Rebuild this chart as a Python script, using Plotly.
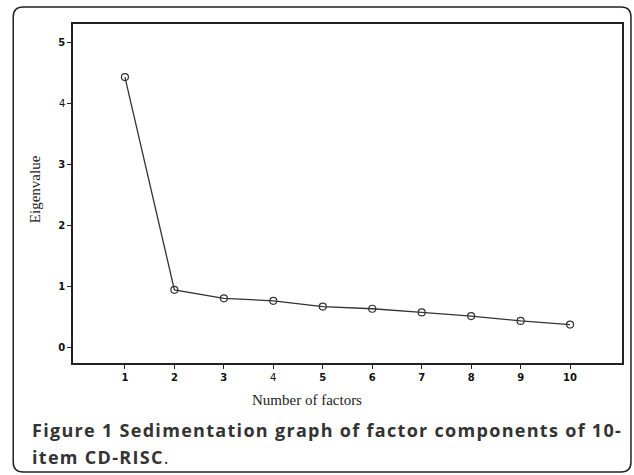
import plotly.graph_objects as go

factors = [1, 2, 3, 4, 5, 6, 7, 8, 9, 10]
eigenvalues = [4.43, 0.94, 0.80, 0.76, 0.665, 0.63, 0.57, 0.51, 0.43, 0.37]
x_ticks = [1, 2, 3, 4, 5, 6, 7, 8, 9, 10]
x_ticklabels = ["<b>1</b>", "<b>2</b>", "<b>3</b>", "4", "<b>5</b>", "<b>6</b>", "<b>7</b>", "<b>8</b>", "<b>9</b>", "<b>10</b>"]
y_ticks = [0, 1, 2, 3, 4, 5]
y_ticklabels = ["<b>0</b>", "<b>1</b>", "<b>2</b>", "<b>3</b>", "4", "<b>5</b>"]

W, H = 634, 475
L, R, T, B = 73, 10, 24, 112
pw, ph = W - L - R, H - T - B

def px(x):
    return (x - L) / pw

def py(y):
    return 1 - (y - T) / ph

fig = go.Figure()
fig.add_trace(go.Scatter(
    x=factors, y=eigenvalues, mode="lines+markers",
    line=dict(color="#333333", width=1.3),
    marker=dict(symbol="circle-open", size=7, color="#333333", line=dict(width=1.2)),
    showlegend=False,
))

# rounded outer border
x0, x1, y0, y1 = px(13), px(633), py(472), py(7)
rx, ry = 10 / pw, 10 / ph
path = (f"M {x0+rx},{y1} L {x1-rx},{y1} Q {x1},{y1} {x1},{y1-ry} "
        f"L {x1},{y0+ry} Q {x1},{y0} {x1-rx},{y0} L {x0+rx},{y0} "
        f"Q {x0},{y0} {x0},{y0+ry} L {x0},{y1-ry} Q {x0},{y1} {x0+rx},{y1} Z")
fig.add_shape(type="path", path=path, xref="paper", yref="paper",
              line=dict(color="#222222", width=1.5), layer="below")

axis_common = dict(showline=True, linecolor="#222222", linewidth=1.5, mirror=True,
                   ticks="outside", ticklen=4, tickcolor="#222222", tickwidth=1.3,
                   showgrid=False, zeroline=False,
                   tickfont=dict(family="DejaVu Sans", size=10, color="#111111"))

fig.update_xaxes(range=[-0.05, 11.05], tickvals=x_ticks, ticktext=x_ticklabels, **axis_common)
fig.update_yaxes(range=[-0.26, 5.3], tickvals=y_ticks, ticktext=y_ticklabels, **axis_common)

fig.add_annotation(text="Eigenvalue", x=px(35), y=py(189), xref="paper", yref="paper",
                   xanchor="center", yanchor="middle",
                   textangle=-90, showarrow=False,
                   font=dict(family="Liberation Serif, DejaVu Serif", size=15, color="#222222"))
fig.add_annotation(text="Number of factors", x=px(308), y=py(400), xref="paper", yref="paper",
                   xanchor="center", yanchor="middle",
                   showarrow=False,
                   font=dict(family="Liberation Serif, DejaVu Serif", size=15, color="#222222"))
fig.add_annotation(text="<b>Figure 1 Sedimentation graph of factor components of 10-</b>",
                   x=px(30), y=py(430), xref="paper", yref="paper",
                   xanchor="left", yanchor="middle", align="left",
                   showarrow=False,
                   font=dict(family="Open Sans", size=18, color="#333333"))
fig.add_annotation(text="<b>item CD-RISC</b>.",
                   x=px(30), y=py(457), xref="paper", yref="paper",
                   xanchor="left", yanchor="middle", align="left",
                   showarrow=False,
                   font=dict(family="Open Sans", size=18, color="#333333"))

fig.update_layout(width=W, height=H, margin=dict(l=L, r=R, t=T, b=B),
                  paper_bgcolor="white", plot_bgcolor="white")

post = """
document.body.style.margin = '0';
document.querySelectorAll('text.annotation-text').forEach(function(t){
  if (t.textContent.indexOf('Figure 1') === 0 || t.textContent.indexOf('item CD') === 0) {
    t.style.letterSpacing = '1.3px';
  }
});
"""
fig.write_html("out.html", post_script=post, config={"displayModeBar": False})
